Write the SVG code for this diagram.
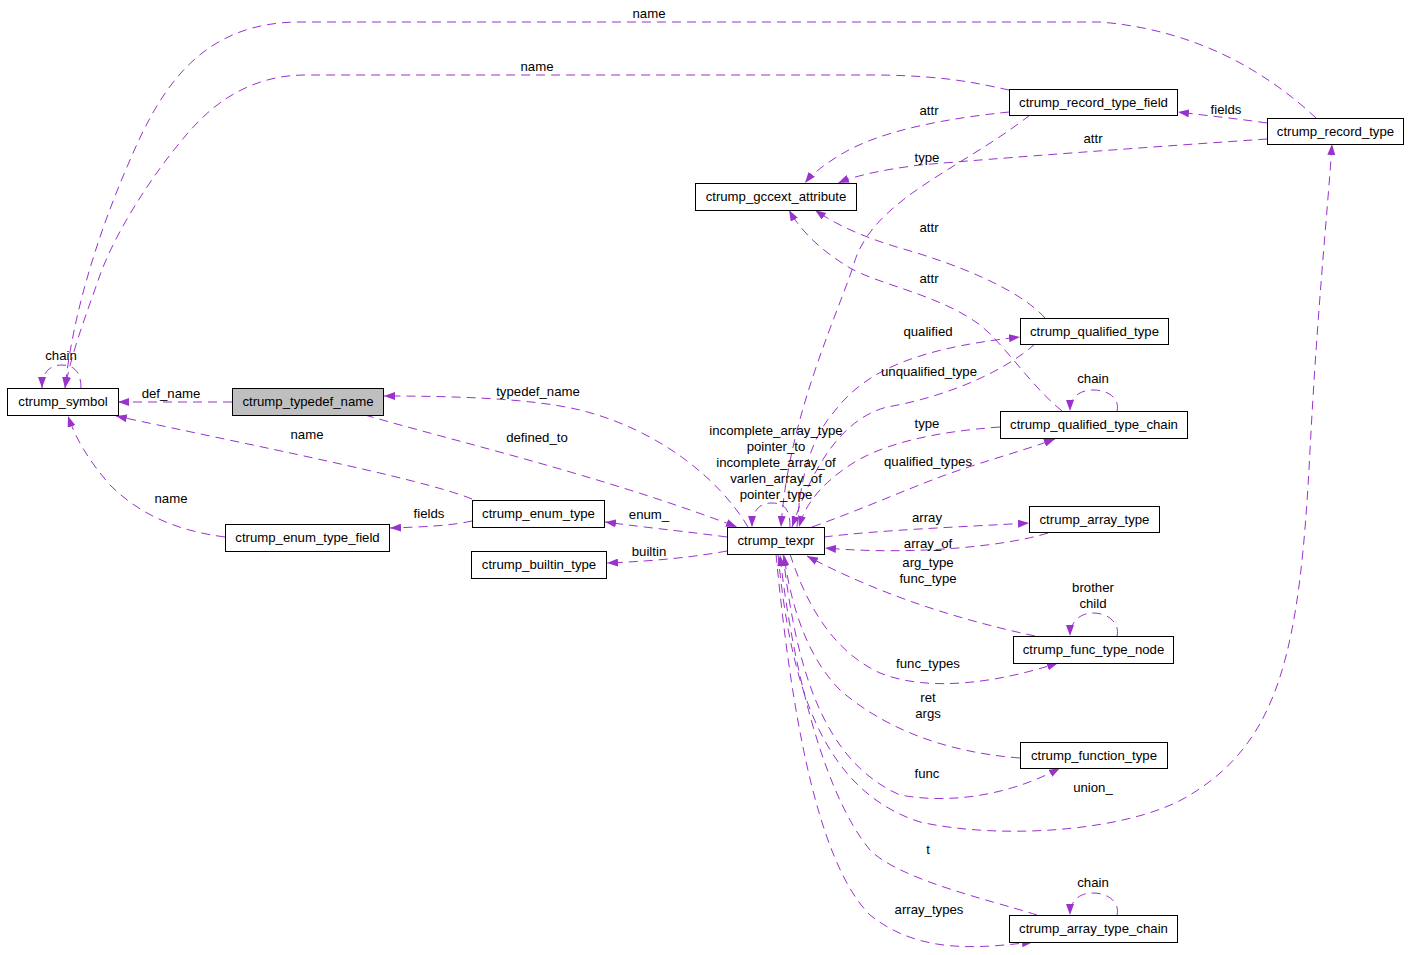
<svg xmlns="http://www.w3.org/2000/svg" width="1408" height="955" viewBox="0 0 1408 955">
<style>
text{font-family:"Liberation Sans",Arial,sans-serif;font-size:13.2px;fill:#000;text-anchor:middle}
.n rect{fill:#fff;stroke:#000;stroke-width:1}
.n.g rect{fill:#bfbfbf}
.e path{fill:none;stroke:#9a32cd;stroke-width:1;stroke-dasharray:9,6;marker-end:url(#ah)}
</style>
<defs>
<marker id="ah" markerUnits="userSpaceOnUse" markerWidth="11" markerHeight="8" viewBox="0 0 11 8" refX="11" refY="4" orient="auto">
<path d="M0,0 L11,4 L0,8 z" fill="#9a32cd" stroke="none"/>
</marker>
</defs>
<rect width="1408" height="955" fill="#fff"/>
<g id="edges" class="e">
<path d="M81,388 C81,370 72,365 62,365 C52,365 42,370 42,388"/>
<path d="M1316,118 C1270,75 1200,30 1100,22 L300,22 C200,22 160,90 130,160 C95,240 72,320 65,388"/>
<path d="M1009,90 C980,84 950,76 880,75 L305,75 C260,75 225,95 200,120 C170,150 120,220 100,275 C88,310 72,350 65,388"/>
<path d="M232,402 L118,402"/>
<path d="M472,499 C420,478 250,445 116,416"/>
<path d="M225,537 C170,530 135,510 110,485 C90,462 76,440 68,416"/>
<path d="M472,521 C450,526 420,527 390,528"/>
<path d="M748,527 C720,480 660,430 580,410 C530,398 450,396 384,396"/>
<path d="M365,415 C450,440 600,475 737,527"/>
<path d="M790,527 C790,510 785,503 772,503 C760,503 752,510 752,527"/>
<path d="M1030,115 C960,170 870,200 853,267 C835,320 788,420 781,527"/>
<path d="M797,527 C800,480 810,440 833,413 C860,378 900,350 1020,337"/>
<path d="M1035,344 C1000,375 940,398 887,407 C845,418 815,460 792,527"/>
<path d="M1000,427 C930,432 880,445 850,465 C820,485 805,505 799,527"/>
<path d="M812,527 C860,510 900,492 940,477 C980,462 1020,452 1055,439"/>
<path d="M1117,411 C1120,400 1110,390 1093,390 C1080,390 1070,397 1070,411"/>
<path d="M1045,318 C1020,290 960,265 900,248 C860,236 835,224 815,210"/>
<path d="M1062,411 C1030,385 1005,345 980,325 C940,295 880,285 850,268 C820,250 800,230 789,210"/>
<path d="M1009,112 C950,118 880,130 840,155 C825,164 812,174 805,183"/>
<path d="M1267,139 C1150,147 1000,158 920,165 C880,170 855,176 838,183"/>
<path d="M1267,123 C1240,119 1210,116 1178,112"/>
<path d="M727,537 C690,532 650,528 605,522"/>
<path d="M727,551 C700,556 660,561 607,563"/>
<path d="M824,537 C880,530 960,527 1029,523"/>
<path d="M1048,533 C1010,545 920,556 825,548"/>
<path d="M1035,636 C960,620 880,595 807,556"/>
<path d="M1117,636 C1120,625 1110,613 1093,613 C1080,613 1070,622 1070,636"/>
<path d="M790,554 C805,600 830,650 880,673 C930,693 1000,682 1058,663"/>
<path d="M1020,758 C940,752 880,725 840,690 C805,655 790,600 784,555"/>
<path d="M783,554 C795,660 820,760 900,795 C960,806 1020,790 1060,768"/>
<path d="M778,554 C790,680 820,790 920,822 C1000,840 1130,832 1190,795 C1280,740 1300,650 1310,450 C1318,300 1327,220 1332,144"/>
<path d="M1037,915 C990,900 900,880 870,850 C820,790 790,650 780,555"/>
<path d="M776,554 C790,700 815,860 870,915 C920,955 980,948 1033,942"/>
<path d="M1117,915 C1120,904 1110,893 1093,893 C1080,893 1070,900 1070,915"/>
</g>
<g id="edge-labels">
<text x="61" y="360">chain</text>
<text x="649" y="18">name</text>
<text x="537" y="71">name</text>
<text x="171" y="398">def_name</text>
<text x="307" y="439">name</text>
<text x="171" y="503">name</text>
<text x="429" y="518">fields</text>
<text x="538" y="396">typedef_name</text>
<text x="537" y="442">defined_to</text>
<text x="776" y="435">incomplete_array_type</text>
<text x="776" y="451">pointer_to</text>
<text x="776" y="467">incomplete_array_of</text>
<text x="776" y="483">varlen_array_of</text>
<text x="776" y="499">pointer_type</text>
<text x="929" y="115">attr</text>
<text x="1226" y="114">fields</text>
<text x="1093" y="143">attr</text>
<text x="927" y="162">type</text>
<text x="929" y="232">attr</text>
<text x="929" y="283">attr</text>
<text x="928" y="336">qualified</text>
<text x="929" y="376">unqualified_type</text>
<text x="1093" y="383">chain</text>
<text x="927" y="428">type</text>
<text x="928" y="466">qualified_types</text>
<text x="649" y="519">enum_</text>
<text x="649" y="556">builtin</text>
<text x="927" y="522">array</text>
<text x="928" y="548">array_of</text>
<text x="928" y="567">arg_type</text>
<text x="928" y="583">func_type</text>
<text x="1093" y="592">brother</text>
<text x="1093" y="608">child</text>
<text x="928" y="668">func_types</text>
<text x="928" y="702">ret</text>
<text x="928" y="718">args</text>
<text x="927" y="778">func</text>
<text x="1093" y="792">union_</text>
<text x="928" y="854">t</text>
<text x="1093" y="887">chain</text>
<text x="929" y="914">array_types</text>
</g>
<g id="ctrump_symbol" class="n"><rect x="7.5" y="388.5" width="111" height="27"/><text x="63" y="406">ctrump_symbol</text></g>
<g id="ctrump_typedef_name" class="n g"><rect x="232.5" y="388.5" width="151" height="27"/><text x="308" y="406">ctrump_typedef_name</text></g>
<g id="ctrump_enum_type_field" class="n"><rect x="225.5" y="524.5" width="164" height="27"/><text x="307.5" y="542">ctrump_enum_type_field</text></g>
<g id="ctrump_enum_type" class="n"><rect x="472.5" y="500.5" width="132" height="27"/><text x="538.5" y="518">ctrump_enum_type</text></g>
<g id="ctrump_builtin_type" class="n"><rect x="471.5" y="551.5" width="135" height="27"/><text x="539" y="569">ctrump_builtin_type</text></g>
<g id="ctrump_texpr" class="n"><rect x="727.5" y="527.5" width="97" height="27"/><text x="776" y="545">ctrump_texpr</text></g>
<g id="ctrump_gccext_attribute" class="n"><rect x="695.5" y="183.5" width="161" height="27"/><text x="776" y="201">ctrump_gccext_attribute</text></g>
<g id="ctrump_record_type_field" class="n"><rect x="1009.5" y="89.5" width="168" height="26"/><text x="1093.5" y="107">ctrump_record_type_field</text></g>
<g id="ctrump_record_type" class="n"><rect x="1267.5" y="118.5" width="136" height="26"/><text x="1335.5" y="136">ctrump_record_type</text></g>
<g id="ctrump_qualified_type" class="n"><rect x="1020.5" y="318.5" width="148" height="26"/><text x="1094.5" y="336">ctrump_qualified_type</text></g>
<g id="ctrump_qualified_type_chain" class="n"><rect x="1000.5" y="411.5" width="187" height="27"/><text x="1094" y="429">ctrump_qualified_type_chain</text></g>
<g id="ctrump_array_type" class="n"><rect x="1029.5" y="506.5" width="130" height="26"/><text x="1094.5" y="524">ctrump_array_type</text></g>
<g id="ctrump_func_type_node" class="n"><rect x="1013.5" y="636.5" width="160" height="27"/><text x="1093.5" y="654">ctrump_func_type_node</text></g>
<g id="ctrump_function_type" class="n"><rect x="1020.5" y="742.5" width="147" height="26"/><text x="1094" y="760">ctrump_function_type</text></g>
<g id="ctrump_array_type_chain" class="n"><rect x="1009.5" y="915.5" width="168" height="27"/><text x="1093.5" y="933">ctrump_array_type_chain</text></g>
</svg>
